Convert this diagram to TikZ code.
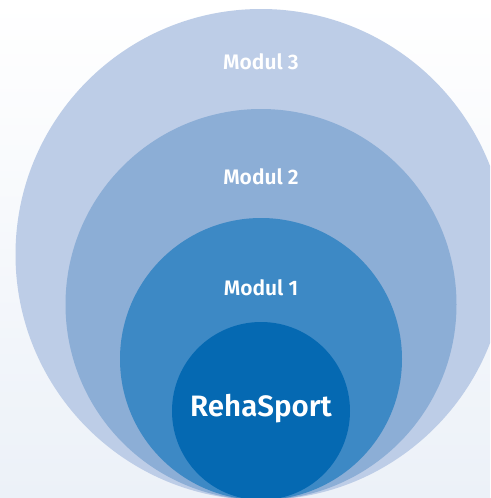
\documentclass[tikz,border=0pt]{standalone}
\usepackage{fontspec}
\setmainfont{Fira Sans}[BoldFont={Fira Sans SemiBold}]
\begin{document}
\begin{tikzpicture}[x=1pt,y=-1pt,
  ring/.style={circle,inner sep=0pt,minimum size=#1},
  lbl/.style={text=white,font=\fontsize{21}{24}\selectfont\bfseries},
  biglbl/.style={text=white,font=\fontsize{29.5}{36}\selectfont\bfseries}]
\definecolor{ringthree}{HTML}{BDCDE7}
\definecolor{ringtwo}{HTML}{8CAED6}
\definecolor{ringone}{HTML}{3D89C5}
\definecolor{core}{HTML}{0569B2}
\definecolor{bgbottom}{HTML}{ECF1F8}
% background
\shade[top color=white,bottom color=bgbottom] (0,0) rectangle (490,498);
\useasboundingbox (0,0) rectangle (490,498);
% nested circles, all touching at the bottom
\begin{scope}
\clip (0,0) rectangle (490,498);
\node[ring=491pt,fill=ringthree] (m3) at (261,254.5) {};
\node[ring=391pt,fill=ringtwo] (m2) at (261,304.5) {};
\node[ring=282pt,fill=ringone] (m1) at (261,359) {};
\node[ring=178pt,fill=core] (rs) at (261,411) {};
\end{scope}
% labels
\node[lbl] (t3) at (261,62) {Modul 3};
\node[lbl] (t2) at (261,177) {Modul 2};
\node[lbl] (t1) at (261,288) {Modul 1};
\node[biglbl] (t0) at (261,409) {RehaSport};
\end{tikzpicture}
\end{document}
